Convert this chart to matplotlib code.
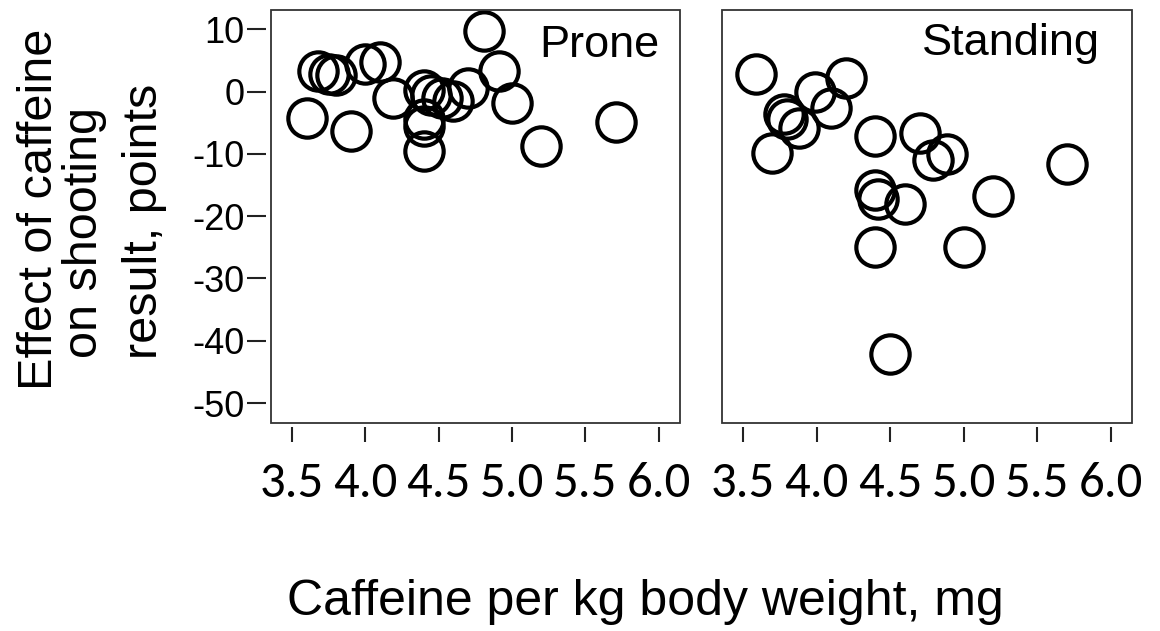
import matplotlib
matplotlib.use('Agg')
import matplotlib.pyplot as plt
from matplotlib import font_manager
from matplotlib.patches import Rectangle

# data
prone_x = [3.60, 3.90, 3.68, 3.75, 3.80, 4.00, 4.10, 4.19, 4.40, 4.45, 4.52,
           4.60, 4.70, 4.40, 4.40, 4.40, 4.81, 4.91, 5.00, 5.20, 5.71]
prone_y = [-4.2, -6.3, 3.3, 2.9, 2.6, 4.4, 4.8, -1.0, 0.2, -0.6, -1.0,
           -1.5, 0.5, -4.4, -5.5, -9.5, 9.7, 3.3, -1.8, -8.7, -4.8]

stand_x = [3.59, 3.70, 3.78, 3.80, 3.88, 3.99, 4.10, 4.20, 4.40, 4.70,
           4.79, 4.89, 4.40, 4.42, 4.60, 5.20, 5.70, 4.40, 5.00, 4.50]
stand_y = [2.8, -9.8, -3.6, -4.4, -5.9, 0.0, -2.6, 2.2, -7.1, -6.6,
           -10.9, -10.0, -15.8, -17.2, -18.1, -16.7, -11.7, -25.0, -25.0, -42.2]

x_ticks = [3.5, 4.0, 4.5, 5.0, 5.5, 6.0]
x_tick_labels = ['3.5', '4.0', '4.5', '5.0', '5.5', '6.0']
y_ticks = [-50, -40, -30, -20, -10, 0, 10]

# pick a Calibri-like face for the x tick labels if there is one
names = {f.name for f in font_manager.fontManager.ttflist}
tickFont = next((n for n in ['Carlito', 'Open Sans'] if n in names), 'DejaVu Sans')
tickSize = {'Carlito': 36.5, 'Open Sans': 32}.get(tickFont, 31)
mainFont = 'Liberation Sans'

W, H = 1160, 631
fig = plt.figure(figsize=(W / 100, H / 100), dpi=100)

def px_box(x0, x1, ytop, ybot):
    return [x0 / W, (H - ybot) / H, (x1 - x0) / W, (ybot - ytop) / H]

axL = fig.add_axes(px_box(271, 680, 10, 423))
axR = fig.add_axes(px_box(722, 1132, 10, 423))

for ax, xs, ys in [(axL, prone_x, prone_y), (axR, stand_x, stand_y)]:
    ax.plot(xs, ys, 'o', ms=27.6, mfc='none', mec='black', mew=3.0)
    ax.set_xlim(3.357, 6.145)
    ax.set_ylim(-53.2, 13.1)

    # frame drawn as a patch so the tick spines can sit a little outside it
    ax.add_patch(Rectangle((0, 0), 1, 1, transform=ax.transAxes, fill=False,
                           lw=1.3, ec='#333333', clip_on=False, zorder=5))
    for s in ['top', 'right']:
        ax.spines[s].set_visible(False)
    ax.spines['bottom'].set_position(('outward', 2.9))
    ax.spines['left'].set_position(('outward', 3.4))
    ax.spines['bottom'].set_color('none')
    ax.spines['left'].set_color('none')

    ax.set_xticks(x_ticks)
    ax.set_xticklabels(x_tick_labels, fontfamily=tickFont, fontsize=tickSize)
    ax.tick_params(axis='x', direction='out', length=10.8, width=1.5,
                   color='#222222', pad=14)

axL.set_yticks(y_ticks)
axL.set_yticklabels([str(v) for v in y_ticks], fontfamily=mainFont, fontsize=26)
axL.tick_params(axis='y', direction='out', length=13.7, width=1.5,
                color='#222222', pad=2)
axR.set_yticks([])

axL.text(0.951, 0.886, 'Prone', transform=axL.transAxes, ha='right',
         va='baseline', fontsize=32.5, family=mainFont)
axR.text(0.922, 0.891, 'Standing', transform=axR.transAxes, ha='right',
         va='baseline', fontsize=32.5, family=mainFont)

# y label: three separate lines
ylab = [('Effect of caffeine', 52, 209.5),
        ('on shooting', 97, 232),
        ('result, points', 157, 221)]
for txt, bx, cy in ylab:
    fig.text(bx / W, (H - cy) / H, txt, rotation=90, rotation_mode='anchor',
             ha='center', va='baseline', fontsize=35, family=mainFont)

fig.text(287 / W, (H - 615) / H, 'Caffeine per kg body weight, mg',
         ha='left', va='baseline', fontsize=36, family=mainFont)

plt.savefig('out.png', dpi=100)
